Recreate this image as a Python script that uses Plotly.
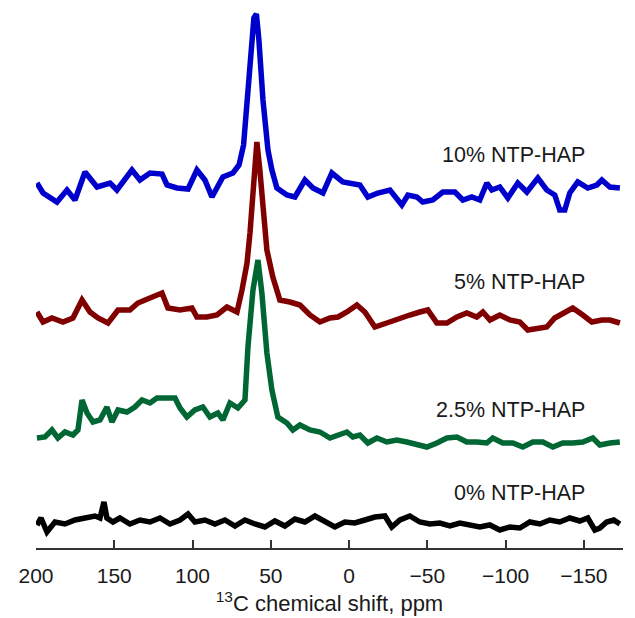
import plotly.graph_objects as go

# ---------------- data ----------------
ppm_blue = [199.4, 195.5, 186.6, 180.2, 175.1, 168.7, 161.0, 152.7, 148.3, 138.7, 133.6, 127.2, 119.5, 116.3,
            110.0, 102.9, 97.2, 92.1, 87.6, 80.6, 74.2, 70.3, 67.4, 64.8, 62.7, 60.8, 59.2, 57.6, 55.0, 51.8,
            49.3, 46.1, 39.7, 34.6, 28.2, 23.1, 16.7, 11.0, 4.0, -6.9, -12.0, -18.4, -26.1, -33.7, -37.6, -43.3,
            -47.1, -53.5, -59.9, -67.6, -72.7, -78.4, -83.5, -88.0, -91.2, -96.3, -101.4, -107.8, -113.6, -120.6,
            -126.3, -131.4, -134.6, -137.8, -141.0, -146.1, -152.5, -158.3, -161.5, -166.6, -173.0]
int_blue = [7, -3, -12, 0, -10, 18, 3, 7, 0, 20, 10, 17, 16, 5,
            2, 1, 20, 10, -7, 13, 17, 25, 45, 90, 140, 172, 176, 150, 90, 40,
            20, 2, -5, -7, 10, 2, -3, 17, 8, 5, -7, -3, 0, -15, -5, -7,
            -12, -10, -2, -2, -10, -7, -10, 7, 0, 3, -8, 7, -2, 12,
            0, -5, -20, -20, -3, 8, 2, 5, 10, 3, 2]

ppm_red = [199.4, 195.5, 189.8, 182.8, 176.4, 170.6, 165.5, 160.4, 154.0, 147.6, 140.0, 134.9, 127.2, 119.5,
           115.7, 108.0, 100.4, 97.2, 90.8, 84.4, 78.0, 71.6, 68.4, 65.2, 63.3, 61.4, 58.9, 57.0, 55.0, 52.5,
           48.7, 44.2, 37.8, 31.4, 25.0, 18.6, 12.2, 7.1, 1.4, -5.0, -10.1, -16.5, -24.1, -32.5, -38.8, -45.2,
           -50.3, -56.1, -62.5, -68.9, -75.2, -81.6, -85.5, -90.0, -96.3, -102.7, -109.1, -114.2, -119.9,
           -126.3, -131.4, -136.5, -142.9, -149.3, -155.1, -161.5, -166.6, -173.0]
int_red = [6, -4, 0, -4, 0, 18, 6, 0, -5, 8, 8, 15, 20, 25,
           10, 8, 10, 1, 1, 3, 11, 6, 28, 55, 85, 133, 176, 148, 108, 68,
           41, 18, 16, 13, 3, -4, 0, 1, 6, 13, 6, -9, -5, 0, 3, 6,
           8, -5, -5, 1, 5, 1, 6, -2, 3, -2, -4, -12, -10,
           -9, 0, 5, 10, 3, -4, -2, -2, -5]

ppm_green = [199.4, 194.3, 189.8, 186.0, 181.5, 176.4, 173.2, 170.6, 167.4, 163.6, 159.1, 154.7, 151.5, 147.6,
             141.9, 136.8, 132.3, 127.2, 122.7, 116.3, 111.2, 108.0, 103.6, 98.5, 93.4, 88.9, 83.8, 80.6, 76.1,
             71.0, 66.5, 64.6, 61.4, 58.2, 55.7, 52.5, 49.3, 45.5, 39.7, 35.9, 31.4, 25.0, 18.6, 12.2, 10.2,
             1.4, -2.4, -6.9, -12.0, -17.8, -24.1, -30.5, -36.9, -43.3, -49.7, -56.1, -62.5, -68.9, -75.2,
             -81.6, -88.0, -91.8, -98.2, -104.6, -111.0, -117.4, -123.8, -130.2, -136.5, -142.9, -149.3,
             -155.7, -160.2, -166.6, -173.0]
int_green = [-3, -2, 5, -3, 3, 0, 5, 35, 22, 13, 15, 28, 13, 25,
             23, 28, 35, 32, 37, 37, 37, 27, 18, 25, 28, 18, 22, 15, 32,
             27, 35, 88, 145, 175, 142, 82, 45, 18, 12, 5, 10, 5, 3, -3, -2,
             3, -2, 0, -8, -3, -7, -5, -7, -10, -12, -8, -3, -2, -7,
             -7, -8, -3, -8, -8, -12, -7, -7, -12, -8, -8, -7,
             -3, -10, -8, -7]

ppm_black = [199.4, 196.8, 193.0, 187.9, 181.5, 175.1, 168.7, 162.3, 159.1, 156.6, 154.7, 150.8, 146.4, 140.0,
             133.6, 127.2, 120.8, 114.4, 108.0, 102.9, 98.5, 92.1, 85.7, 79.3, 72.9, 66.5, 60.1, 53.8, 47.4,
             41.0, 34.6, 28.2, 21.8, 15.4, 9.1, 2.7, -3.7, -10.1, -16.5, -22.9, -27.3, -32.5, -38.8, -45.2,
             -51.6, -58.0, -64.4, -70.8, -77.2, -83.5, -89.9, -96.3, -102.7, -109.1, -115.5, -121.9, -128.2,
             -134.6, -141.0, -147.4, -152.5, -157.0, -160.2, -164.6, -169.1, -173.0]
int_black = [-2, 5, -9, 1, -1, 3, 5, 7, 5, 21, 5, 1, 5, -1,
             3, 1, 5, -1, 3, 9, 1, 3, -1, 3, -3, 3, -1, -4, 2,
             -3, 4, 1, 7, 1, -4, 1, 0, 3, 6, 7, -4, 3, 7, 1,
             -1, 0, -3, 0, -2, -4, -2, -7, -4, -5, 1, -1, 3,
             1, 5, 2, 5, -7, -5, 1, 3, -1]

series_names = ["10% NTP-HAP", "5% NTP-HAP", "2.5% NTP-HAP", "0% NTP-HAP"]
series_ppm = [ppm_blue, ppm_red, ppm_green, ppm_black]
series_int = [int_blue, int_red, int_green, int_black]
series_offset = [358, 230, 113, 25]
series_label_y = [393, 266, 138, 55]
series_colors = ["#0000CC", "#800000", "#006633", "#000000"]

tick_vals = [200, 150, 100, 50, 0, -50, -100, -150]

# ---------------- figure ----------------
FONT = "Liberation Sans, Arial, sans-serif"
fig = go.Figure()
for name, xs, ys, off, col in zip(series_names, series_ppm, series_int, series_offset, series_colors):
    fig.add_trace(go.Scatter(
        x=xs, y=[v + off for v in ys], mode="lines", name=name,
        line=dict(color=col, width=5.5), showlegend=False, hoverinfo="skip"))

for name, ly in zip(series_names, series_label_y):
    fig.add_annotation(x=-152, y=ly, text=name, showarrow=False, xanchor="right", yanchor="middle",
                       font=dict(family=FONT, size=21.5, color="#1a1a1a"))

fig.update_layout(
    width=635, height=618,
    margin=dict(l=36, r=12, t=5, b=70),
    plot_bgcolor="white", paper_bgcolor="white",
    xaxis=dict(range=[200, -175], autorange=False, showgrid=False, zeroline=False,
               showline=True, linecolor="#333333", linewidth=1.5,
               ticks="inside", ticklen=8, tickwidth=1.5, tickcolor="#333333",
               tickvals=tick_vals, ticklabelstandoff=8,
               tickfont=dict(family=FONT, size=21, color="#1a1a1a"),
               title=dict(text="<sup>13</sup>C chemical shift, ppm", standoff=10,
                          font=dict(family=FONT, size=22, color="#1a1a1a"))),
    yaxis=dict(range=[0, 543], autorange=False, visible=False, showgrid=False, zeroline=False),
)

fig.write_html("out.html", config={"displayModeBar": False},
               post_script="document.body.style.margin='0';")
